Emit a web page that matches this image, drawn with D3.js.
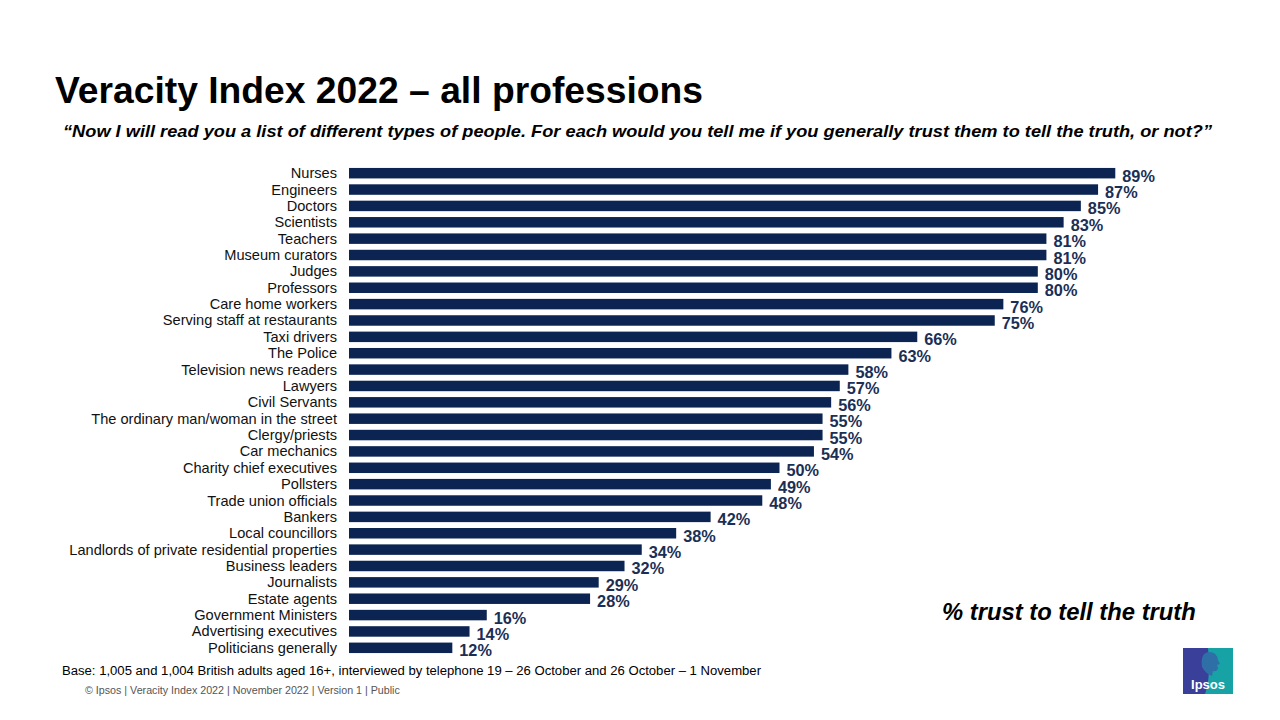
<!DOCTYPE html>
<html>
<head>
<meta charset="utf-8">
<script src="https://cdnjs.cloudflare.com/ajax/libs/d3/7.8.5/d3.min.js"></script>
<style>
  body { margin: 0; background: #fff; }
  svg { display: block; font-family: "Liberation Sans", Arial, sans-serif; }
</style>
</head>
<body>
<div id="canvas"></div>
<script>
var professions = ['Nurses','Engineers','Doctors','Scientists','Teachers','Museum curators','Judges',
  'Professors','Care home workers','Serving staff at restaurants','Taxi drivers','The Police',
  'Television news readers','Lawyers','Civil Servants','The ordinary man/woman in the street',
  'Clergy/priests','Car mechanics','Charity chief executives','Pollsters','Trade union officials',
  'Bankers','Local councillors','Landlords of private residential properties','Business leaders',
  'Journalists','Estate agents','Government Ministers','Advertising executives','Politicians generally'];
var trust = [89,87,85,83,81,81,80,80,76,75,66,63,58,57,56,55,55,54,50,49,48,42,38,34,32,29,28,16,14,12];

var W = 1280, H = 720;
var svg = d3.select('#canvas').append('svg').attr('width', W).attr('height', H);

// titles
svg.append('text').attr('x', 55).attr('y', 103)
  .style('font-size', '36px').style('font-weight', 'bold').attr('fill', '#000')
  .attr('textLength', 648).attr('lengthAdjust', 'spacingAndGlyphs')
  .text('Veracity Index 2022 \u2013 all professions');
svg.append('text').attr('x', 63).attr('y', 137)
  .style('font-size', '16.5px').style('font-weight', 'bold').style('font-style', 'italic').attr('fill', '#000')
  .attr('textLength', 1149).attr('lengthAdjust', 'spacingAndGlyphs')
  .text('\u201cNow I will read you a list of different types of people. For each would you tell me if you generally trust them to tell the truth, or not?\u201d');

// scales
var x = d3.scaleLinear().domain([0, 100]).range([349, 1210]);
var y = d3.scaleBand().domain(professions).range([165, 656]).paddingInner(0.36).paddingOuter(0.18);

var rows = svg.append('g').selectAll('g')
  .data(professions.map(function(p, i){ return {name: p, v: trust[i]}; }))
  .enter().append('g');

rows.append('rect')
  .attr('x', x(0))
  .attr('y', function(d){ return y(d.name); })
  .attr('width', function(d){ return x(d.v) - x(0); })
  .attr('height', y.bandwidth())
  .attr('fill', '#0b2452');

rows.append('text')
  .attr('x', 337)
  .attr('y', function(d){ return y(d.name) + y.bandwidth() / 2 + 5; })
  .attr('text-anchor', 'end')
  .style('font-size', '14.6px').attr('fill', '#111')
  .text(function(d){ return d.name; });

rows.append('text')
  .attr('x', function(d){ return x(d.v) + 7; })
  .attr('y', function(d){ return y(d.name) + y.bandwidth() / 2 + 8.5; })
  .style('font-size', '16.3px').style('font-weight', 'bold').attr('fill', '#1b2f55')
  .text(function(d){ return d.v + '%'; });

// annotation
svg.append('text').attr('x', 942).attr('y', 620)
  .style('font-size', '23.8px').style('font-weight', 'bold').style('font-style', 'italic').attr('fill', '#000')
  .text('% trust to tell the truth');

// footer
svg.append('text').attr('x', 62).attr('y', 675)
  .style('font-size', '12.5px').attr('fill', '#000')
  .attr('textLength', 699).attr('lengthAdjust', 'spacingAndGlyphs')
  .text('Base: 1,005 and 1,004 British adults aged 16+, interviewed  by telephone  19 \u2013 26 October and 26 October \u2013 1 November');
svg.append('text').attr('x', 85).attr('y', 694)
  .style('font-size', '10.7px').attr('fill', '#555')
  .text('\u00a9 Ipsos | Veracity Index 2022 | November 2022 | Version 1 | Public');

// logo
var logo = svg.append('g').attr('transform', 'translate(1183,648)');
logo.append('rect').attr('width', 50).attr('height', 46).attr('fill', '#3a3f9a');
logo.append('path').attr('d', 'M25,0 L50,0 L50,46 L22,46 Q28,30 25,0 Z').attr('fill', '#17a3a5');
logo.append('path').attr('d', 'M19,19 Q17,5 26,4 Q34,4 35,12 L37,16 L34,17 L35,20 Q34,24 30,23 L29,28 Q23,26 19,19 Z').attr('fill', '#2f6fa8');
logo.append('text').attr('x', 25).attr('y', 41).attr('text-anchor', 'middle')
  .style('font-size', '13px').style('font-weight', 'bold').attr('fill', '#fff').text('Ipsos');
</script>
</body>
</html>
